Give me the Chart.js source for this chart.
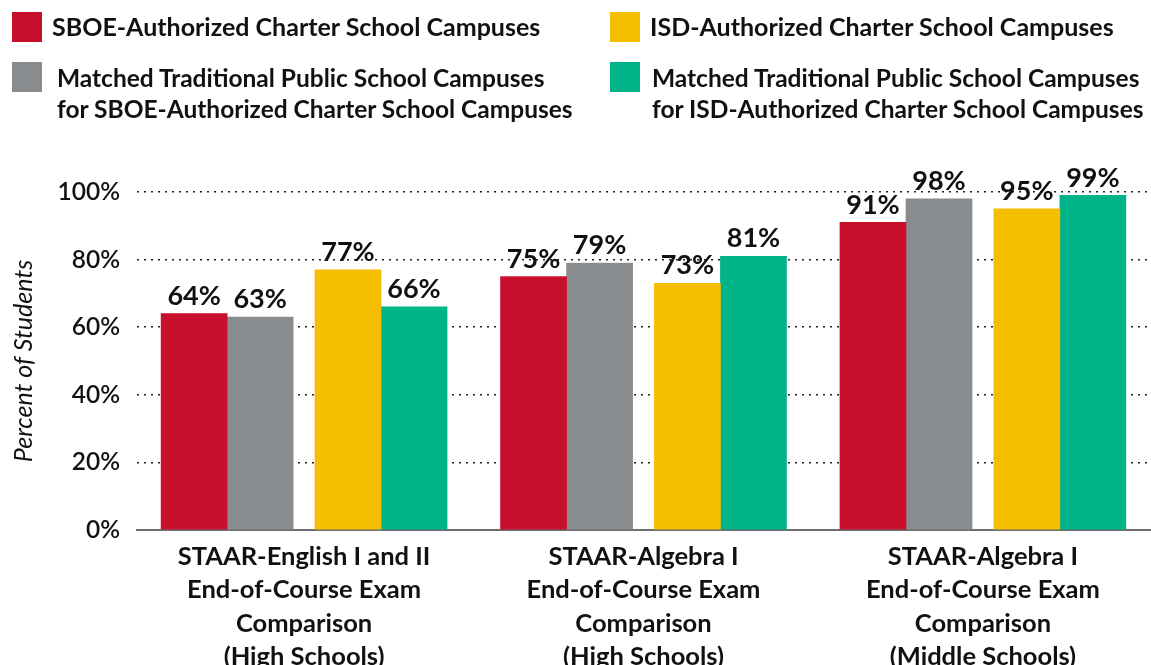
<!DOCTYPE html>
<html>
<head>
<meta charset="utf-8">
<script src="https://cdn.jsdelivr.net/npm/chart.js@4.4.1/dist/chart.umd.min.js"></script>
<style>
  body { margin: 0; background: #fff; font-family: Lato, sans-serif; }
  #wrap { position: relative; width: 1151px; height: 665px; overflow: hidden; }
  #chart { position: absolute; left: 0; top: 0; }
  .item { position: absolute; }
  .sw { position: absolute; left: 0; top: 0; width: 30px; height: 30px; }
  .txt { position: absolute; top: -1px; font-weight: 700; font-size: 25px; line-height: 31px; color: #111; white-space: nowrap; }
  .two { font-size: 24.5px; top: 0px; }
</style>
</head>
<body>
<div id="wrap">
  <canvas id="chart" width="1151" height="665"></canvas>
  <div id="legend"></div>
</div>
<script>
// chart data
const groupLabels = [
  ['STAAR-English I and II', 'End-of-Course Exam', 'Comparison', '(High Schools)'],
  ['STAAR-Algebra I', 'End-of-Course Exam', 'Comparison', '(High Schools)'],
  ['STAAR-Algebra I', 'End-of-Course Exam', 'Comparison', '(Middle Schools)']
];
const seriesNames = [
  ['SBOE-Authorized Charter School Campuses'],
  ['ISD-Authorized Charter School Campuses'],
  ['Matched Traditional Public School Campuses', 'for SBOE-Authorized Charter School Campuses'],
  ['Matched Traditional Public School Campuses', 'for ISD-Authorized Charter School Campuses']
];
const seriesColors = ['#c8102e', '#f5be00', '#898c8e', '#00b388'];
const sboeCharter = [64, 75, 91];
const isdCharter = [77, 73, 95];
const sboeMatched = [63, 79, 98];
const isdMatched = [66, 81, 99];
const yTicks = [0, 20, 40, 60, 80, 100];

// order of bars inside a group: SBOE pair, then ISD pair
const barOrder = [0, 2, 1, 3];
const seriesValues = [sboeCharter, isdCharter, sboeMatched, isdMatched];

// x axis in units of one bar width
const pairGap = 0.33;
const groupStep = 5.14;
const edge = 2.53;
const slot = [-(1.5 + pairGap / 2), -(0.5 + pairGap / 2), 0.5 + pairGap / 2, 1.5 + pairGap / 2];

// html legend
const legendPos = [
  { left: 12, top: 12, text: 40 },
  { left: 610, top: 12, text: 40 },
  { left: 12, top: 62, text: 45 },
  { left: 610, top: 62, text: 42 }
];
const legend = document.getElementById('legend');
seriesNames.forEach((lines, i) => {
  const item = document.createElement('div');
  item.className = 'item';
  item.style.left = legendPos[i].left + 'px';
  item.style.top = legendPos[i].top + 'px';
  const sw = document.createElement('div');
  sw.className = 'sw';
  sw.style.background = seriesColors[i];
  const txt = document.createElement('div');
  txt.className = lines.length > 1 ? 'txt two' : 'txt';
  txt.style.left = legendPos[i].text + 'px';
  txt.innerHTML = lines.join('<br>');
  item.appendChild(sw);
  item.appendChild(txt);
  legend.appendChild(item);
});

const valueLabels = {
  id: 'valueLabels',
  afterDatasetsDraw(chart) {
    const ctx = chart.ctx;
    ctx.save();
    ctx.font = 'bold 27px Lato';
    ctx.fillStyle = '#111';
    ctx.textAlign = 'center';
    ctx.textBaseline = 'bottom';
    chart.data.datasets.forEach((ds, i) => {
      chart.getDatasetMeta(i).data.forEach((bar, j) => {
        ctx.fillText(ds.data[j].y + '%', bar.x, bar.y - 4);
      });
    });
    ctx.restore();
  }
};

const datasets = barOrder.map((s, k) => ({
  label: seriesNames[s].join(' '),
  data: seriesValues[s].map((v, g) => ({ x: g * groupStep + slot[k], y: v })),
  backgroundColor: seriesColors[s],
  borderWidth: 0,
  grouped: false,
  barPercentage: 1,
  categoryPercentage: 1
}));

new Chart(document.getElementById('chart'), {
  type: 'bar',
  data: { datasets: datasets },
  options: {
    responsive: false,
    animation: false,
    layout: { padding: { top: 192, right: 1, left: 0, bottom: 0 } },
    plugins: {
      legend: { display: false },
      tooltip: { enabled: false }
    },
    scales: {
      x: {
        type: 'linear',
        offset: false,
        min: -edge,
        max: 2 * groupStep + edge,
        afterBuildTicks: scale => {
          scale.ticks = groupLabels.map((l, g) => ({ value: g * groupStep }));
        },
        afterFit: scale => { scale.height = 135; },
        grid: { display: false },
        border: { display: true, color: '#6d6e70', width: 2 },
        ticks: {
          autoSkip: false,
          maxRotation: 0,
          padding: 2,
          color: '#111',
          font: { family: 'Lato', size: 25.5, weight: 'bold', lineHeight: 1.314 },
          callback: (value, index) => groupLabels[index]
        }
      },
      y: {
        min: 0,
        max: 100,
        afterBuildTicks: scale => {
          scale.ticks = yTicks.map(v => ({ value: v }));
        },
        afterFit: scale => { scale.width = 137; },
        border: { display: false, dash: [2, 5] },
        grid: {
          drawTicks: false,
          lineWidth: 1.5,
          color: c => (c.tick && c.tick.value === 0 ? 'rgba(0,0,0,0)' : '#222')
        },
        ticks: {
          padding: 17,
          color: '#111',
          font: { family: 'Lato', size: 24.5, weight: '600' },
          callback: v => v + '%'
        },
        title: {
          display: true,
          text: 'Percent of Students',
          color: '#111',
          font: { family: 'Lato', size: 25, style: 'italic' },
          padding: { top: 9, bottom: 0 }
        }
      }
    }
  },
  plugins: [valueLabels]
});
</script>
</body>
</html>
